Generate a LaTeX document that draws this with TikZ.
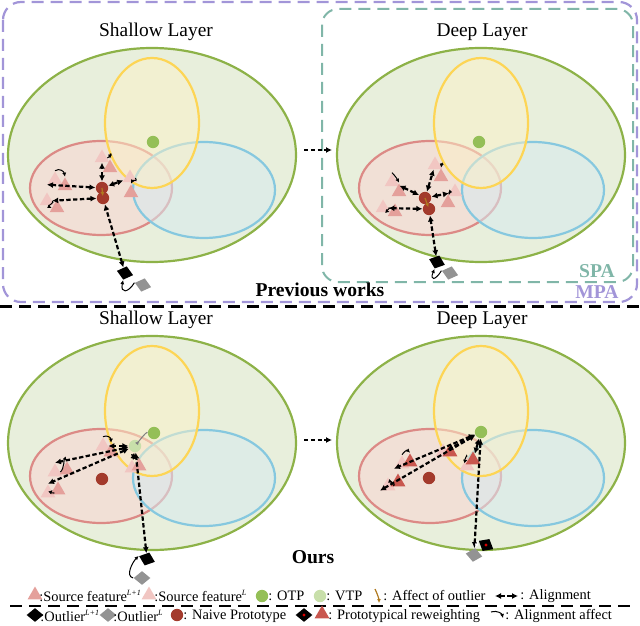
\documentclass[tikz,border=0pt]{standalone}
\usepackage{fontspec}
\setmainfont{Liberation Serif}
\usetikzlibrary{arrows.meta,positioning,shapes.geometric}

\definecolor{grnline}{RGB}{141,178,72}
\definecolor{grnfill}{RGB}{232,239,220}
\definecolor{ylwline}{RGB}{253,213,85}
\definecolor{ylwfill}{RGB}{252,241,200}
\definecolor{redline}{RGB}{220,138,134}
\definecolor{redfill}{RGB}{246,216,212}
\definecolor{blueline}{RGB}{134,200,223}
\definecolor{bluefill}{RGB}{214,234,240}
\definecolor{otpc}{RGB}{148,191,87}
\definecolor{vtpc}{RGB}{200,223,170}
\definecolor{protoc}{RGB}{163,58,44}
\definecolor{triA}{RGB}{228,160,155}
\definecolor{triB}{RGB}{241,198,194}
\definecolor{triW}{RGB}{201,87,79}
\definecolor{purp}{RGB}{162,149,216}
\definecolor{tealc}{RGB}{128,182,168}
\definecolor{brownc}{RGB}{176,122,32}

\newcommand\upidx[1]{\textsuperscript{\fontsize{4}{4}\selectfont\textit{#1}}}

\begin{document}
\begin{tikzpicture}[
  x=0.5pt, y=-0.5pt,
  lbl/.style={font=\fontsize{9.7}{11}\selectfont, inner sep=0pt},
  head/.style={font=\fontsize{9.8}{11}\selectfont\bfseries, inner sep=0pt},
  leg/.style={font=\fontsize{7.2}{8}\selectfont, inner sep=0pt, anchor=west},
  tri/.style={regular polygon, regular polygon sides=3, minimum size=8.5pt, inner sep=0pt},
  srcA/.style={tri, fill=triA},
  srcB/.style={tri, fill=triB},
  srcW/.style={tri, fill=triW},
  dot/.style={circle, minimum size=6.2pt, inner sep=0pt},
  otp/.style={dot, fill=otpc},
  vtp/.style={dot, fill=vtpc},
  proto/.style={dot, fill=protoc},
  outA/.style={diamond, fill=black, minimum width=8.5pt, minimum height=7pt, inner sep=0pt},
  outB/.style={diamond, fill=gray!85, minimum width=8.5pt, minimum height=7pt, inner sep=0pt},
  alnarr/.style={{Latex[length=3pt,width=3pt]}-{Latex[length=3pt,width=3pt]}, line width=1.1pt, dash pattern=on 2.2pt off 1.2pt},
  affarr/.style={-{Latex[length=2pt,width=2pt]}, line width=0.5pt},
  outarr/.style={-{Latex[length=2pt,width=2pt]}, line width=0.6pt, brownc},
  nextarr/.style={-{Latex[length=3pt,width=3pt]}, line width=1pt, dash pattern=on 2.2pt off 1.2pt}
]
  \useasboundingbox (0,0) rectangle (640,625);

  % the four embedding spaces
  \foreach \cx/\cy in {152/155, 481/155, 152/443, 481/443} {
    \begin{scope}[shift={(\cx,\cy)}]
      \filldraw[grnline, fill=grnfill, line width=1.1pt] (0,0) ellipse [x radius=144, y radius=107];
      \filldraw[redline, fill=redfill, fill opacity=0.65, line width=1.1pt] (-51,33) ellipse [x radius=71, y radius=47];
      \filldraw[blueline, fill=bluefill, fill opacity=0.55, line width=1.1pt] (52,35) ellipse [x radius=71, y radius=48];
      \filldraw[ylwline, fill=ylwfill, fill opacity=0.5, line width=1.1pt] (0,-32) ellipse [x radius=47, y radius=65];
    \end{scope}
  }

  \draw[purp, line width=1.1pt, dash pattern=on 6pt off 3.5pt, rounded corners=9pt] (3,2) rectangle (637,302);
  \draw[tealc, line width=1pt, dash pattern=on 6pt off 3.5pt, rounded corners=8pt] (322,9) rectangle (633,282);
  \draw[line width=1.2pt, dash pattern=on 6pt off 3.5pt] (0,306.5) -- (640,306.5);

  \node[lbl] (tl-title) at (156,32) {Shallow Layer};
  \node[lbl] (tr-title) at (482,32) {Deep Layer};
  \node[lbl] (bl-title) at (156,320) {Shallow Layer};
  \node[lbl] (br-title) at (482,320) {Deep Layer};
  \node[head] (prev) at (320,290) {Previous works};
  \node[head] (ours) at (313,557) {Ours};
  \node[head, text=tealc] (spa) at (597,271) {SPA};
  \node[head, text=purp] (mpa) at (597,292) {MPA};

  % shallow layer, previous works
  \node[otp] (tl-o) at (153,142) {};
  \node[srcB] (tl-a1) at (102,158) {};
  \node[srcA] (tl-a2) at (110,168) {};
  \node[srcB] (tl-b1) at (130,178) {};
  \node[srcA] (tl-b2) at (131,193) {};
  \node[srcB] (tl-c1) at (55,180) {};
  \node[srcA] (tl-c2) at (65,186) {};
  \node[srcB] (tl-d1) at (47,201) {};
  \node[srcA] (tl-d2) at (57,208) {};
  \node[proto] (tl-p1) at (102,188) {};
  \node[proto] (tl-p2) at (103,198) {};
  \node[outA, rotate=-15] (tl-ob) at (125,273) {};
  \node[outB, rotate=-15] (tl-og) at (143,285) {};
  \draw[outarr, shorten >=1pt] (tl-p1.center) -- (tl-p2.center);
  \draw[alnarr] (tl-p1) -- (tl-a1);
  \draw[alnarr] (tl-p1) -- (tl-b1);
  \draw[alnarr] (tl-p1) -- (tl-c1.corner 2);
  \draw[alnarr] (tl-p2) -- (tl-d1);
  \draw[alnarr] (tl-ob) -- (tl-p2);
  \draw[affarr] (tl-a1.east) .. controls +(6,-4) and +(0,-6) .. (tl-a2.north);
  \draw[affarr] (tl-b1.east) .. controls +(3,4) and +(2,-4) .. (tl-b2.north);
  \draw[affarr] (tl-c1.north) .. controls +(5,-3) and +(-1,-5) .. (tl-c2.north);
  \draw[affarr] (tl-d1.east) .. controls +(3,1) and +(-4,-2) .. (tl-d2.west);
  \draw[affarr] (tl-og.west) .. controls +(-6,10) and +(-3,14) .. (tl-ob.south);

  % deep layer, previous works
  \node[otp] (tr-o) at (479,142) {};
  \node[srcB] (tr-a1) at (435,165) {};
  \node[srcA] (tr-a2) at (441,177) {};
  \node[srcB] (tr-b1) at (455,192) {};
  \node[srcA] (tr-b2) at (448,203) {};
  \node[srcB] (tr-c1) at (392,182) {};
  \node[srcA] (tr-c2) at (399,192) {};
  \node[srcB] (tr-d1) at (383,208) {};
  \node[srcA] (tr-d2) at (395,212) {};
  \node[proto] (tr-p1) at (425,198) {};
  \node[proto] (tr-p2) at (429,209) {};
  \node[outA, rotate=-20] (tr-ob) at (437,262) {};
  \node[outB, rotate=-15] (tr-og) at (450,273) {};
  \draw[outarr, shorten >=1pt] (tr-p1.center) -- (tr-p2.center);
  \draw[alnarr] (tr-p1) -- (tr-a1);
  \draw[alnarr] (tr-p1) -- (tr-b1);
  \draw[alnarr] (tr-p1) -- (tr-c1);
  \draw[alnarr] (tr-p2) -- (tr-d1);
  \draw[alnarr] (tr-ob) -- (tr-p2);
  \draw[affarr] (tr-a1.east) .. controls +(4,-3) and +(1,-5) .. (tr-a2.north);
  \draw[affarr] (tr-b1.west) .. controls +(-1,4) and +(3,-3) .. (tr-b2.north);
  \draw[affarr] (tr-c1.north) .. controls +(3,3) and +(-2,-4) .. (tr-c2.north);
  \draw[affarr] (tr-d1.east) .. controls +(4,-1) and +(-4,-1) .. (tr-d2.west);
  \draw[affarr] (tr-og.west) .. controls +(-6,10) and +(-5,12) .. (tr-ob.south);

  \coordinate (tl-e) at (304,150);
  \coordinate (tr-w) at (332,150);
  \draw[nextarr] (tl-e) -- (tr-w);

  % shallow layer, ours
  \node[srcB] (bl-a1) at (103,446) {};
  \node[srcA] (bl-a2) at (111,452) {};
  \node[srcB] (bl-b1) at (132,468) {};
  \node[srcA] (bl-b2) at (139,466) {};
  \node[srcB] (bl-c1) at (55,472) {};
  \node[srcA] (bl-c2) at (67,470) {};
  \node[srcB] (bl-d1) at (48,493) {};
  \node[srcA] (bl-d2) at (58,490) {};
  \node[proto] (bl-p) at (102,479) {};
  \node[otp] (bl-o) at (154,433) {};
  \node[vtp] (bl-v) at (135,446) {};
  \node[outA, rotate=-20] (bl-ob) at (147,559) {};
  \node[outB] (bl-og) at (142,578) {};
  \draw[-{Latex[length=2pt,width=2pt]}, gray, line width=0.5pt] (bl-o) .. controls +(-8,-1) and +(4,-5) .. (bl-v);
  \draw[alnarr] (bl-v) -- (bl-a1);
  \draw[alnarr] (bl-v) -- (bl-b1);
  \draw[alnarr] (bl-v) -- (bl-c1.corner 1);
  \draw[alnarr] (bl-v) -- (bl-d1.corner 1);
  \draw[alnarr] (bl-ob) -- (bl-v);
  \draw[affarr] (bl-a1.north) .. controls +(4,-2) and +(0,-5) .. (bl-a2.north);
  \draw[affarr] (bl-c1.east) .. controls +(4,-3) and +(-3,-3) .. (bl-c2.north);
  \draw[affarr] (bl-d1.east) .. controls +(4,0) and +(-3,3) .. (bl-d2.west);
  \draw[affarr] (bl-og.west) .. controls +(-8,-2) and +(-6,6) .. (bl-ob.west);

  % deep layer, ours
  \node[srcB] (br-a1) at (443,452) {};
  \node[srcW] (br-a2) at (450,452) {};
  \node[srcB] (br-b1) at (467,466) {};
  \node[srcW] (br-b2) at (473,460) {};
  \node[srcB] (br-c1) at (402,464) {};
  \node[srcW] (br-c2) at (410,462) {};
  \node[srcB] (br-d1) at (388,486) {};
  \node[srcW] (br-d2) at (398,482) {};
  \node[proto] (br-p) at (429,478) {};
  \node[otp] (br-o) at (481,432) {};
  \node[outB, rotate=-10] (br-og) at (474,555) {};
  \node[outA, rotate=-30] (br-ob) at (486,545) {};
  \node[dot, fill=red!85!black, minimum size=1.6pt] (br-obdot) at (br-ob) {};
  \draw[alnarr] (br-o) -- (br-a1);
  \draw[alnarr] (br-o) -- (br-b2);
  \draw[alnarr] (br-o) -- (br-c1.corner 2);
  \draw[alnarr] (br-o) -- (br-d1.corner 2);
  \draw[alnarr] (br-og) -- (br-o);
  \draw[affarr] (br-c1.north) .. controls +(2,-3) and +(-3,-3) .. (br-c2.north);
  \draw[affarr] (br-d1.east) .. controls +(4,-1) and +(-4,-1) .. (br-d2.west);
  \draw[affarr] (br-b1.north) .. controls +(0,-4) and +(-3,1) .. (br-b2.west);
  \draw[affarr, white] (br-ob.west) -- (br-og.north);

  \coordinate (bl-e) at (304,440);
  \coordinate (br-w) at (332,440);
  \draw[nextarr] (bl-e) -- (br-w);

  % legend
  \node[srcA] (lg-t1) at (35,595) {};
  \node[leg] (lg-t1-txt) at (39,596) {:Source feature\upidx{L+1}};
  \node[srcB] (lg-t2) at (149,595) {};
  \node[leg] (lg-t2-txt) at (154,596) {:Source feature\upidx{L}};
  \node[otp] (lg-o) at (262,596) {};
  \node[leg] (lg-o-txt) at (268,596) {: OTP};
  \node[vtp] (lg-v) at (320,596) {};
  \node[leg] (lg-v-txt) at (326,596) {: VTP};
  \coordinate (lg-aff-s) at (375,589);
  \coordinate (lg-aff-e) at (379,603);
  \draw[outarr] (lg-aff-s) .. controls +(2,4) and +(0,-4) .. (lg-aff-e);
  \node[leg] (lg-aff-txt) at (383,596) {: Affect of outlier};
  \coordinate (lg-al-l) at (495,596);
  \coordinate (lg-al-r) at (518,596);
  \draw[alnarr, line width=0.8pt] (lg-al-l) -- (lg-al-r);
  \node[leg] (lg-al-txt) at (520,596) {: Alignment};

  \draw[line width=1.1pt, dash pattern=on 6pt off 3.5pt] (10,606) -- (632,606);

  \node[outA] (lg-ob) at (35,615) {};
  \node[leg] (lg-ob-txt) at (40,616) {:Outlier\upidx{L+1}};
  \node[outB] (lg-og) at (108,615) {};
  \node[leg] (lg-og-txt) at (113,616) {:Outlier\upidx{L}};
  \node[proto] (lg-p) at (177,615) {};
  \node[leg] (lg-p-txt) at (183,616) {: Naive Prototype};
  \node[outA] (lg-w1) at (304,615) {};
  \node[dot, fill=red!85!black, minimum size=1.6pt] (lg-w1dot) at (lg-w1) {};
  \node[srcW] (lg-w2) at (322,614) {};
  \node[leg] (lg-w-txt) at (328,616) {: Prototypical reweighting};
  \coordinate (lg-af-s) at (491,612);
  \coordinate (lg-af-e) at (503,618);
  \draw[affarr] (lg-af-s) .. controls +(7,-2) and +(-1,-4) .. (lg-af-e);
  \node[leg] (lg-af-txt) at (505,616) {: Alignment affect};
\end{tikzpicture}
\end{document}
